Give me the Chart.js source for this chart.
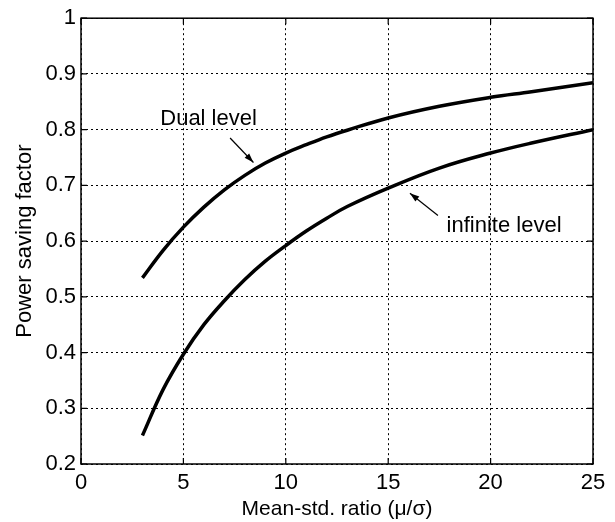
<!DOCTYPE html>
<html>
<head>
<meta charset="utf-8">
<script src="https://cdn.jsdelivr.net/npm/chart.js@4/dist/chart.umd.min.js"></script>
<style>
  html, body { margin: 0; padding: 0; background: #fff; }
  #wrap { width: 615px; height: 522px; }
</style>
</head>
<body>
<div id="wrap"><canvas id="myChart" width="615" height="522"></canvas></div>
<script>
// mean-std ratio (x)
const ratio = [3, 4, 5, 6, 7, 8, 9, 10, 11, 12, 13, 15, 17.5, 20, 22, 25];
// dual level curve
const dualLevel = [0.534, 0.583, 0.625, 0.661, 0.692, 0.718, 0.740, 0.758, 0.773, 0.787, 0.799, 0.821, 0.842, 0.858, 0.868, 0.884];
// infinite level curve
const infiniteLevel = [0.251, 0.333, 0.397, 0.45, 0.493, 0.531, 0.564, 0.592, 0.618, 0.641, 0.662, 0.695, 0.731, 0.758, 0.776, 0.8];

// labels with arrows (data coords, text y = baseline)
const notes = [
  { text: 'Dual level', x: 3.87, y: 0.809, from: [7.28, 0.785], to: [8.42, 0.741] },
  { text: 'infinite level', x: 17.85, y: 0.617, from: [17.43, 0.646], to: [16.06, 0.686] },
];

const FONT = 'Liberation Sans, Arial, sans-serif';

function toPoints(xs, ys) {
  return xs.map((x, i) => ({ x: x, y: ys[i] }));
}

// box + inner ticks + annotations
const matlabLook = {
  id: 'matlabLook',
  afterDatasetsDraw(chart) {
    const ctx = chart.ctx;
    const a = chart.chartArea;
    const sx = chart.scales.x;
    const sy = chart.scales.y;
    ctx.save();
    ctx.strokeStyle = '#000';
    ctx.lineWidth = 1.5;
    ctx.strokeRect(a.left, a.top, a.right - a.left, a.bottom - a.top);
    ctx.lineWidth = 1.2;
    ctx.beginPath();
    sx.ticks.forEach(t => {
      const px = sx.getPixelForValue(t.value);
      ctx.moveTo(px, a.bottom); ctx.lineTo(px, a.bottom - 6);
      ctx.moveTo(px, a.top); ctx.lineTo(px, a.top + 6);
    });
    sy.ticks.forEach(t => {
      const py = sy.getPixelForValue(t.value);
      ctx.moveTo(a.left, py); ctx.lineTo(a.left + 6, py);
      ctx.moveTo(a.right, py); ctx.lineTo(a.right - 6, py);
    });
    ctx.stroke();

    ctx.fillStyle = '#000';
    ctx.font = '22px ' + FONT;
    ctx.textBaseline = 'alphabetic';
    ctx.textAlign = 'left';
    notes.forEach(n => {
      ctx.fillText(n.text, sx.getPixelForValue(n.x), sy.getPixelForValue(n.y));
      const x1 = sx.getPixelForValue(n.from[0]), y1 = sy.getPixelForValue(n.from[1]);
      const x2 = sx.getPixelForValue(n.to[0]), y2 = sy.getPixelForValue(n.to[1]);
      ctx.lineWidth = 1.2;
      ctx.beginPath();
      ctx.moveTo(x1, y1); ctx.lineTo(x2, y2);
      ctx.stroke();
      const ang = Math.atan2(y2 - y1, x2 - x1);
      ctx.beginPath();
      ctx.moveTo(x2, y2);
      ctx.lineTo(x2 - 10 * Math.cos(ang - 0.32), y2 - 10 * Math.sin(ang - 0.32));
      ctx.lineTo(x2 - 10 * Math.cos(ang + 0.32), y2 - 10 * Math.sin(ang + 0.32));
      ctx.closePath();
      ctx.fill();
    });
    ctx.restore();
  }
};

const data = {
  datasets: [
    {
      label: 'Dual level',
      data: toPoints(ratio, dualLevel),
      borderColor: '#000',
      borderWidth: 3.5,
      pointRadius: 0,
      tension: 0.4,
    },
    {
      label: 'infinite level',
      data: toPoints(ratio, infiniteLevel),
      borderColor: '#000',
      borderWidth: 3.5,
      pointRadius: 0,
      tension: 0.4,
    },
  ],
};

const gridStyle = {
  color: '#000',
  lineWidth: 1,
  drawTicks: false,
};

const config = {
  type: 'line',
  data: data,
  options: {
    responsive: false,
    animation: false,
    layout: { padding: { top: 18, right: 22, left: 0, bottom: 0 } },
    plugins: { legend: { display: false }, tooltip: { enabled: false } },
    scales: {
      x: {
        type: 'linear',
        min: 0, max: 25,
        ticks: { stepSize: 5, color: '#000', font: { family: FONT, size: 22 }, padding: 6, maxRotation: 0 },
        grid: gridStyle,
        border: { display: false, dash: [2, 3] },
        title: { display: true, text: 'Mean-std. ratio (μ/σ)', color: '#000', font: { family: FONT, size: 21 }, padding: { top: 0, bottom: 0 } },
        afterFit(scale) { scale.height = 58; },
      },
      y: {
        min: 0.2, max: 1,
        ticks: {
          stepSize: 0.1, color: '#000', font: { family: FONT, size: 22 }, padding: 5,
          callback: v => (Math.abs(v - 1) < 1e-9 ? '1' : v.toFixed(1)),
        },
        grid: gridStyle,
        border: { display: false, dash: [2, 3] },
        title: { display: true, text: 'Power saving factor', color: '#000', font: { family: FONT, size: 22 }, padding: { top: 12, bottom: 0 } },
        afterFit(scale) { scale.width = 81; },
      },
    },
  },
  plugins: [matlabLook],
};

const myChart = new Chart(document.getElementById('myChart'), config);
</script>
</body>
</html>
